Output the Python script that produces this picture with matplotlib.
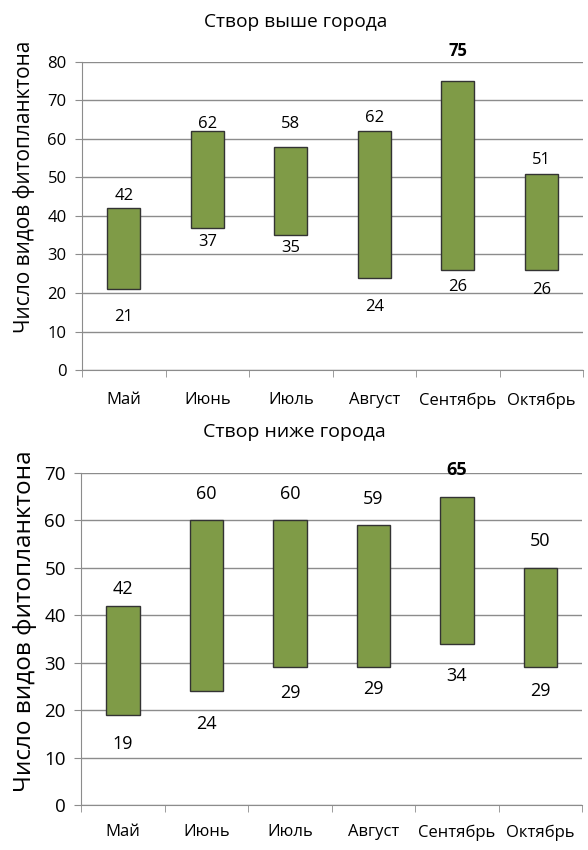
import matplotlib
matplotlib.use('Agg')
import matplotlib.pyplot as plt
import numpy as np

plt.rcParams['font.family'] = ['Open Sans', 'DejaVu Sans']

months = ['Май', 'Июнь', 'Июль', 'Август', 'Сентябрь', 'Октябрь']

upper_min = [21, 37, 35, 24, 26, 26]
upper_max = [42, 62, 58, 62, 75, 51]

lower_min = [19, 24, 29, 29, 34, 29]
lower_max = [42, 60, 60, 59, 65, 50]

# distance of label centre from bar end, points
upper_top_off = [10, 6.8, 17.7, 11.3, 22.8, 11.3]
upper_bot_off = [18.7, 9.1, 7.9, 19.4, 10.6, 13]
lower_top_off = [13.5, 20.2, 20.2, 19.7, 20.4, 20.7]
lower_bot_off = [19.9, 22.3, 17.3, 14.4, 22.1, 15.6]

bar_color = '#7F9B47'
edge_color = '#333333'
grid_color = '#8C8C8C'


def range_panel(ax, vmin, vmax, ymax, top_off, bot_off,
                tick_fs, lab_fs, ylab_fs, ylab_xy, xpad):
    x = np.arange(len(months))
    lo = np.array(vmin)
    hi = np.array(vmax)
    ax.bar(x, hi - lo, bottom=lo, width=0.4, color=bar_color,
           edgecolor=edge_color, linewidth=1.0, zorder=3)
    ax.set_ylim(0, ymax)
    ax.set_xlim(-0.5, len(months) - 0.5)
    ax.set_yticks(np.arange(0, ymax + 1, 10))
    ax.yaxis.grid(True, color=grid_color, linewidth=1.0, zorder=0)
    ax.set_axisbelow(True)
    for s in ['top', 'right']:
        ax.spines[s].set_visible(False)
    for s in ['left', 'bottom']:
        ax.spines[s].set_color(grid_color)
    ax.set_xticks(x)
    ax.set_xticklabels(months, fontsize=12)
    ax.set_xticks(np.arange(-0.5, len(months)), minor=True)
    ax.tick_params(axis='x', which='major', length=0, pad=xpad)
    ax.tick_params(axis='x', which='minor', length=5, color=grid_color)
    ax.tick_params(axis='y', length=5, color=grid_color, labelsize=tick_fs, pad=6)
    ax.set_ylabel('Число видов фитопланктона', fontsize=ylab_fs)
    ax.yaxis.set_label_coords(*ylab_xy)
    peak = int(np.argmax(hi))
    half = 0.36 * lab_fs  # half digit height
    for i in range(len(months)):
        ax.annotate(str(hi[i]), (x[i], hi[i]), xytext=(0, top_off[i] - half),
                    textcoords='offset points', ha='center', va='baseline',
                    fontsize=lab_fs,
                    fontweight='bold' if i == peak else 'normal')
        ax.annotate(str(lo[i]), (x[i], lo[i]), xytext=(0, -bot_off[i] - half),
                    textcoords='offset points', ha='center', va='baseline',
                    fontsize=lab_fs)


fig = plt.figure(figsize=(5.88, 8.5), dpi=100)
ax1 = fig.add_axes([0.1395, 0.5647, 0.852, 0.3624])
ax2 = fig.add_axes([0.138, 0.0529, 0.852, 0.3906])

range_panel(ax1, upper_min, upper_max, 80, upper_top_off, upper_bot_off,
            tick_fs=12, lab_fs=12, ylab_fs=15, ylab_xy=(-0.094, 0.594), xpad=16)
range_panel(ax2, lower_min, lower_max, 70, lower_top_off, lower_bot_off,
            tick_fs=13.5, lab_fs=13, ylab_fs=17.5, ylab_xy=(-0.088, 0.554), xpad=14)

fig.text(0.503, 1 - 22 / 850, 'Створ выше города', fontsize=13.8,
         ha='center', va='center')
fig.text(0.5, 1 - 432 / 850, 'Створ ниже города', fontsize=14,
         ha='center', va='center')

fig.savefig('out.png', dpi=100)
